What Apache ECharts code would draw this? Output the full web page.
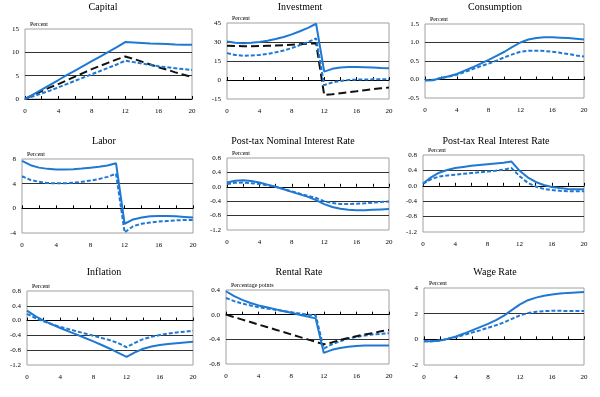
<!DOCTYPE html>
<html>
<head>
<meta charset="utf-8">
<script src="https://cdn.jsdelivr.net/npm/echarts@6/dist/echarts.min.js"></script>
<style>
  html, body { margin: 0; padding: 0; background: #fff; }
  #chart { width: 600px; height: 397px; }
</style>
</head>
<body>
<div id="chart"></div>
<script>
const quarters = [0, 1, 2, 3, 4, 5, 6, 7, 8, 9, 10, 11, 12, 13, 14, 15, 16, 17, 18, 19, 20]

const capSolid = [0, 1.0, 2.0, 3.05, 4.07, 5.1, 6.1, 7.1, 8.1, 9.1, 10.1, 11.1, 12.2, 12.1, 12.0, 11.9, 11.85, 11.8, 11.7, 11.65, 11.6]
const capBlack = [0, 0.9, 1.7, 2.5, 3.2, 4.0, 4.8, 5.6, 6.4, 7.1, 7.8, 8.5, 9.1, 8.6, 8.0, 7.4, 6.8, 6.3, 5.7, 5.2, 4.7]
const capDash = [0, 0.6, 1.2, 1.8, 2.5, 3.2, 3.9, 4.6, 5.3, 6.0, 6.7, 7.4, 8.2, 7.9, 7.6, 7.3, 7.0, 6.8, 6.6, 6.4, 6.2]

const invSolid = [30.4, 29.4, 29.1, 29.4, 30.0, 31.0, 32.3, 34.0, 36.0, 38.5, 41.2, 44.4, 6.6, 8.8, 9.9, 10.3, 10.3, 10.1, 9.8, 9.5, 9.3]
const invBlack = [27, 26.8, 26.7, 26.7, 26.8, 27, 27.2, 27.5, 27.9, 28.3, 28.7, 29.1, -11.9, -11.2, -10.4, -9.6, -8.9, -8.1, -7.3, -6.6, -6.0]
const invDash = [21.2, 19.8, 19.2, 19.3, 19.8, 20.6, 21.8, 23.3, 25.2, 27.5, 30.0, 32.8, -4.0, -2.0, -0.7, 0, 0.3, 0.4, 0.5, 0.5, 0.5]

const conSolid = [-0.03, -0.02, 0.04, 0.09, 0.15, 0.24, 0.33, 0.43, 0.53, 0.64, 0.75, 0.88, 1.0, 1.08, 1.12, 1.14, 1.14, 1.13, 1.12, 1.10, 1.08]
const conDash = [-0.02, -0.01, 0.04, 0.08, 0.13, 0.2, 0.28, 0.36, 0.43, 0.51, 0.6, 0.68, 0.75, 0.78, 0.78, 0.77, 0.75, 0.72, 0.69, 0.65, 0.62]

const labSolid = [7.7, 7.0, 6.6, 6.4, 6.3, 6.3, 6.35, 6.45, 6.6, 6.75, 6.95, 7.3, -2.5, -1.8, -1.5, -1.3, -1.25, -1.25, -1.3, -1.4, -1.5]
const labDash = [5.2, 4.6, 4.3, 4.1, 4.05, 4.05, 4.15, 4.3, 4.5, 4.75, 5.1, 5.6, -3.9, -2.9, -2.5, -2.3, -2.15, -2.05, -1.95, -1.9, -1.9]

const nomSolid = [0.12, 0.17, 0.18, 0.16, 0.12, 0.06, 0.0, -0.07, -0.14, -0.21, -0.28, -0.37, -0.48, -0.56, -0.61, -0.64, -0.65, -0.65, -0.64, -0.63, -0.62]
const nomDash = [0.08, 0.11, 0.12, 0.1, 0.08, 0.04, 0.0, -0.06, -0.13, -0.19, -0.25, -0.31, -0.4, -0.45, -0.48, -0.48, -0.47, -0.46, -0.44, -0.42, -0.41]

const realSolid = [0.06, 0.22, 0.34, 0.41, 0.46, 0.49, 0.52, 0.54, 0.56, 0.58, 0.6, 0.63, 0.39, 0.22, 0.1, 0.02, -0.03, -0.06, -0.08, -0.09, -0.09]
const realDash = [0.05, 0.17, 0.24, 0.27, 0.29, 0.31, 0.33, 0.35, 0.37, 0.39, 0.42, 0.46, 0.25, 0.08, -0.02, -0.08, -0.11, -0.13, -0.14, -0.14, -0.14]

const infSolid = [0.27, 0.12, 0.0, -0.1, -0.2, -0.29, -0.38, -0.47, -0.56, -0.66, -0.76, -0.87, -0.98, -0.86, -0.76, -0.7, -0.66, -0.63, -0.61, -0.59, -0.57]
const infDash = [0.18, 0.07, -0.02, -0.1, -0.17, -0.23, -0.29, -0.35, -0.41, -0.47, -0.53, -0.61, -0.72, -0.6, -0.5, -0.44, -0.39, -0.35, -0.32, -0.3, -0.27]

const renSolid = [0.38, 0.3, 0.24, 0.19, 0.15, 0.12, 0.09, 0.06, 0.03, 0.0, -0.03, -0.06, -0.62, -0.57, -0.54, -0.52, -0.51, -0.5, -0.5, -0.5, -0.5]
const renDash = [0.27, 0.22, 0.18, 0.15, 0.12, 0.1, 0.08, 0.06, 0.04, 0.02, 0.0, -0.01, -0.55, -0.48, -0.43, -0.39, -0.36, -0.34, -0.32, -0.31, -0.3]
const renBlack = [0, -0.04, -0.08, -0.12, -0.16, -0.2, -0.24, -0.28, -0.32, -0.36, -0.4, -0.44, -0.48, -0.45, -0.41, -0.38, -0.35, -0.32, -0.3, -0.27, -0.25]

const wageSolid = [-0.15, -0.15, -0.1, 0.05, 0.22, 0.45, 0.7, 0.95, 1.2, 1.5, 1.85, 2.3, 2.72, 3.05, 3.25, 3.4, 3.5, 3.57, 3.62, 3.65, 3.68]
const wageDash = [-0.15, -0.15, -0.1, 0.04, 0.17, 0.34, 0.52, 0.7, 0.9, 1.1, 1.32, 1.6, 1.87, 2.05, 2.15, 2.2, 2.22, 2.22, 2.21, 2.21, 2.2]

const FONT = 'Liberation Serif'
const blue = '#1f78d2'
// line looks
const solid = {color: blue, width: 2, type: 'solid'}
const dashed = {color: blue, width: 2, type: [4, 2]}
const black = {color: '#111', width: 2, type: [8, 4]}

// panel layout, px: box = [left, top, width, height], tx/ty = title centre
const panels = [
  {title: 'Capital', unit: 'Percent', tx: 103, ty: 7, box: [25, 29, 167, 70], y: [0, 15, 5, 0], lines: [[capSolid, solid], [capBlack, black], [capDash, dashed]]},
  {title: 'Investment', unit: 'Percent', tx: 300, ty: 7, box: [227, 23, 162, 76], y: [-15, 45, 15, 0], lines: [[invSolid, solid], [invBlack, black], [invDash, dashed]]},
  {title: 'Consumption', unit: 'Percent', tx: 495, ty: 7, box: [425, 24, 159, 74], y: [-0.5, 1.5, 0.5, 1], lines: [[conSolid, solid], [conDash, dashed]]},
  {title: 'Labor', unit: 'Percent', tx: 104, ty: 141, box: [22, 159, 171, 74], y: [-4, 8, 4, 0], lines: [[labSolid, solid], [labDash, dashed]]},
  {title: 'Post-tax Nominal Interest Rate', unit: 'Percent', tx: 293, ty: 141, box: [227, 158, 162, 72], y: [-1.2, 0.8, 0.4, 1], lines: [[nomSolid, solid], [nomDash, dashed]]},
  {title: 'Post-tax Real Interest Rate', unit: 'Percent', tx: 496, ty: 141, box: [423, 155, 161, 77], y: [-1.2, 0.8, 0.4, 1], lines: [[realSolid, solid], [realDash, dashed]]},
  {title: 'Inflation', unit: 'Percent', tx: 104, ty: 272, box: [27, 291, 166, 74], y: [-1.2, 0.8, 0.4, 1], lines: [[infSolid, solid], [infDash, dashed]]},
  {title: 'Rental Rate', unit: 'Percentage points', tx: 299, ty: 272, box: [226, 290, 163, 74], y: [-0.8, 0.4, 0.4, 1], lines: [[renSolid, solid], [renDash, dashed], [renBlack, black]]},
  {title: 'Wage Rate', unit: 'Percent', tx: 495, ty: 272, box: [424, 288, 160, 77], y: [-2, 4, 2, 0], lines: [[wageSolid, solid], [wageDash, dashed]]},
]

const grid = [], xAxis = [], yAxis = [], series = [], graphic = []

panels.forEach((p, i) => {
  const [left, top, width, height] = p.box
  const [min, max, interval, dec] = p.y
  grid.push({left, top, width, height, show: true, borderColor: '#a0a0a0', borderWidth: 1})
  // bottom labels
  xAxis.push({
    type: 'value', gridIndex: i, min: 0, max: 20, interval: 4, position: 'bottom',
    axisLine: {show: false, onZero: false}, axisTick: {show: false}, splitLine: {show: false},
    axisLabel: {fontFamily: FONT, fontSize: 7, color: '#000', margin: 9}
  })
  // zero line with ticks
  xAxis.push({
    type: 'value', gridIndex: i, min: 0, max: 20, interval: 2, position: 'top',
    axisLine: {show: true, onZero: true, lineStyle: {color: '#000', width: 1}},
    axisTick: {show: true, length: 3, lineStyle: {color: '#000'}},
    axisLabel: {show: false}, splitLine: {show: false}
  })
  const n = Math.round((max - min) / interval) + 1
  const cols = []
  for (let k = 0; k < n; k++) cols.push(k === 0 || k === n - 1 ? 'transparent' : '#333')
  yAxis.push({
    type: 'value', gridIndex: i, min, max, interval,
    axisLine: {show: false}, axisTick: {show: false},
    splitLine: {show: true, lineStyle: {color: cols, width: 1}},
    axisLabel: {fontFamily: FONT, fontSize: 7, color: '#000', margin: 6, formatter: v => v.toFixed(dec)}
  })
  p.lines.forEach(([arr, style]) => {
    series.push({
      type: 'line', xAxisIndex: i * 2, yAxisIndex: i, symbol: 'none', silent: true,
      lineStyle: style, z: style === solid ? 3 : 2,
      data: quarters.map((q, j) => [q, arr[j]])
    })
  })
  graphic.push({
    type: 'text', x: p.tx, y: p.ty,
    style: {text: p.title, font: '10px ' + FONT, fill: '#000', textAlign: 'center', textVerticalAlign: 'middle'}
  })
  graphic.push({
    type: 'text', x: left + 5, y: top - 5,
    style: {text: p.unit, font: '6px ' + FONT, fill: '#000', textAlign: 'left', textVerticalAlign: 'middle'}
  })
})

const chart = echarts.init(document.getElementById('chart'))
chart.setOption({
  animation: false,
  backgroundColor: '#fff',
  grid, xAxis, yAxis, series, graphic
})
</script>
</body>
</html>
